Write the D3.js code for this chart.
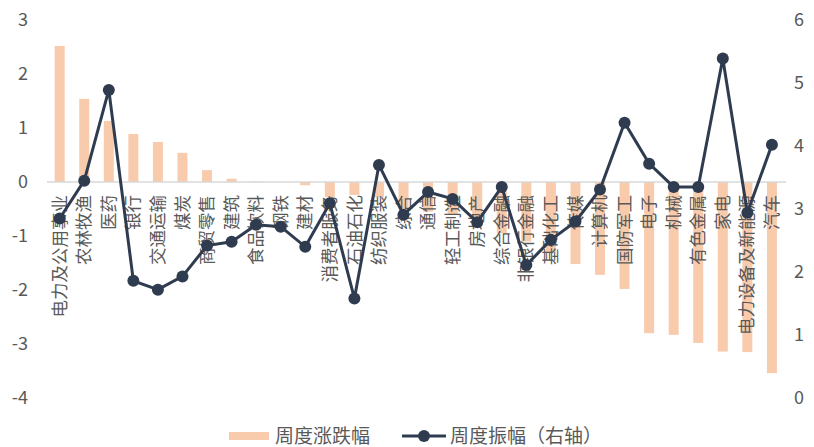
<!DOCTYPE html>
<html><head><meta charset="utf-8">
<script src="https://cdn.jsdelivr.net/npm/d3@7"></script>
<style>
html,body{margin:0;padding:0;background:#fff;}
text{font-family:"Noto Sans CJK SC","Noto Sans",sans-serif;fill:#595959;}
</style></head>
<body>
<svg id="c" width="814" height="447"></svg>
<script>
const categories = ["电力及公用事业","农林牧渔","医药","银行","交通运输","煤炭","商贸零售","建筑","食品饮料","钢铁","建材","消费者服务","石油石化","纺织服装","综合","通信","轻工制造","房地产","综合金融","非银行金融","基础化工","传媒","计算机","国防军工","电子","机械","有色金属","家电","电力设备及新能源","汽车"];
const weeklyChange = [2.52,1.54,1.13,0.89,0.74,0.54,0.22,0.06,0.01,0.0,-0.06,-0.28,-0.24,-0.28,-0.5,-0.55,-0.6,-0.75,-0.95,-1.1,-1.3,-1.52,-1.72,-1.98,-2.8,-2.83,-2.98,-3.14,-3.15,-3.54];
const weeklyAmplitude = [2.85,3.45,4.89,1.86,1.72,1.93,2.42,2.48,2.75,2.72,2.40,3.09,1.58,3.70,2.91,3.27,3.16,2.79,3.35,2.11,2.51,2.80,3.31,4.37,3.72,3.35,3.35,5.39,2.94,4.02];
const leftTicks = [3,2,1,0,-1,-2,-3,-4];
const rightTicks = [6,5,4,3,2,1,0];
const seriesNames = ["周度涨跌幅","周度振幅（右轴）"];

const barColor = "#F8CBAD", lineColor = "#2F3C50";
const svg = d3.select("#c");
const x = d3.scaleBand().domain(categories).range([47.4, 784.2]).paddingInner(0.6).paddingOuter(0.3);
const yL = d3.scaleLinear().domain([-4,3]).range([398,20]);
const yR = d3.scaleLinear().domain([0,6]).range([398,20]);

// left axis labels
svg.append("g").selectAll("text").data(leftTicks).join("text")
  .attr("x", 28).attr("y", d => yL(d)).attr("dy","0.35em")
  .attr("text-anchor","end").style("font-size","18px").text(d => d);
// right axis labels
svg.append("g").selectAll("text").data(rightTicks).join("text")
  .attr("x", 794).attr("y", d => yR(d)).attr("dy","0.35em")
  .attr("text-anchor","start").style("font-size","18px").text(d => d);

// bars
const bw = 10;
svg.append("g").selectAll("rect").data(categories).join("rect")
  .attr("x", (d) => x(d) + x.bandwidth()/2 - bw/2)
  .attr("width", bw)
  .attr("y", (d,i) => Math.min(yL(weeklyChange[i]), yL(0)))
  .attr("height", (d,i) => Math.abs(yL(weeklyChange[i]) - yL(0)))
  .attr("fill", barColor);

// zero line
svg.append("line").attr("x1",47).attr("x2",786).attr("y1",yL(0)).attr("y2",yL(0))
  .attr("stroke","#D9D9D9").attr("stroke-width",1.5);

// category labels
svg.append("g").selectAll("text").data(categories).join("text")
  .attr("transform", d => `translate(${x(d)+x.bandwidth()/2},${yL(0)+13}) rotate(-90)`)
  .attr("text-anchor","end").attr("dy","0.35em")
  .style("font-size","17.5px").text(d => d);

// line
const line = d3.line().x((d,i) => x(categories[i]) + x.bandwidth()/2).y(d => yR(d));
svg.append("path").datum(weeklyAmplitude).attr("d", line)
  .attr("fill","none").attr("stroke",lineColor).attr("stroke-width",3);
svg.append("g").selectAll("circle").data(weeklyAmplitude).join("circle")
  .attr("cx",(d,i) => x(categories[i]) + x.bandwidth()/2).attr("cy", d => yR(d))
  .attr("r",6).attr("fill",lineColor);

// legend
const ly = 436;
const lg = svg.append("g");
lg.append("rect").attr("x",229).attr("y",ly-4).attr("width",40).attr("height",8).attr("fill",barColor);
lg.append("text").attr("x",275).attr("y",ly).attr("dy","0.35em").style("font-size","19px").text(seriesNames[0]);
lg.append("line").attr("x1",402).attr("x2",446).attr("y1",ly).attr("y2",ly).attr("stroke",lineColor).attr("stroke-width",3);
lg.append("circle").attr("cx",424).attr("cy",ly).attr("r",6).attr("fill",lineColor);
lg.append("text").attr("x",450).attr("y",ly).attr("dy","0.35em").style("font-size","19px").text(seriesNames[1]);
</script>
</body></html>
